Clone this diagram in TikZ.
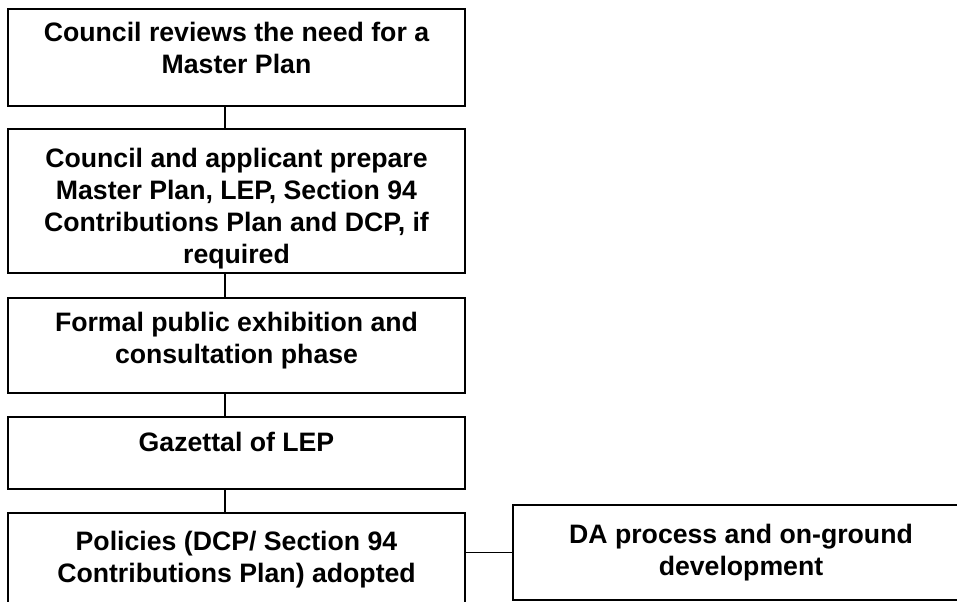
\documentclass[tikz,border=0pt]{standalone}
\usepackage{fontspec}
\setmainfont{Liberation Sans}
\usetikzlibrary{positioning}

\begin{document}
\begin{tikzpicture}[x=0.75pt,y=-0.75pt,
  stagebox/.style={rectangle,draw,line width=1.4pt,minimum width=342.75pt},
  stagetext/.style={anchor=north,align=center,inner sep=0pt,
                    font=\fontsize{20}{24}\selectfont\bfseries},
  link/.style={line width=1.4pt}]

  \clip (0,0) rectangle (957,601);

  % --- left column ---
  \node[stagebox,minimum height=72.75pt]  (review)  at (236.5,57.5)  {};
  \node[stagebox,minimum height=108pt]    (prepare) at (236.5,201)   {};
  \node[stagebox,minimum height=71.25pt]  (exhibit) at (236.5,345.5) {};
  \node[stagebox,minimum height=54pt]     (gazette) at (236.5,453)   {};
  \node[stagebox,minimum height=80.25pt]  (adopt)   at (236.5,566.5) {};

  \node[stagetext] (reviewtxt)  at (236.5,22)  {Council reviews the need for a\\ Master Plan};
  \node[stagetext] (preparetxt) at (236.5,148) {Council and applicant prepare\\ Master Plan, LEP, Section 94\\
        Contributions Plan and DCP, if\\ required};
  \node[stagetext] (exhibittxt) at (236.5,312) {Formal public exhibition and\\ consultation phase};
  \node[stagetext] (gazettetxt) at (236.5,432) {Gazettal of LEP};
  \node[stagetext] (adopttxt)   at (236.5,531) {Policies (DCP/ Section 94\\ Contributions Plan) adopted};

  % --- right box ---
  \node[stagebox,minimum width=342pt,minimum height=71.25pt] (da) at (741,552.5) {};
  \node[stagetext] (datxt) at (741,524) {DA process and on-ground\\ development};

  % --- connectors ---
  \coordinate (spine) at (225,0);
  \foreach \a/\b in {review/prepare,prepare/exhibit,exhibit/gazette,gazette/adopt}
    \draw[link] (\a.south -| spine) -- (\b.north -| spine);
  \draw[link] (da.west) -- (da.west -| adopt.east);
\end{tikzpicture}
\end{document}
